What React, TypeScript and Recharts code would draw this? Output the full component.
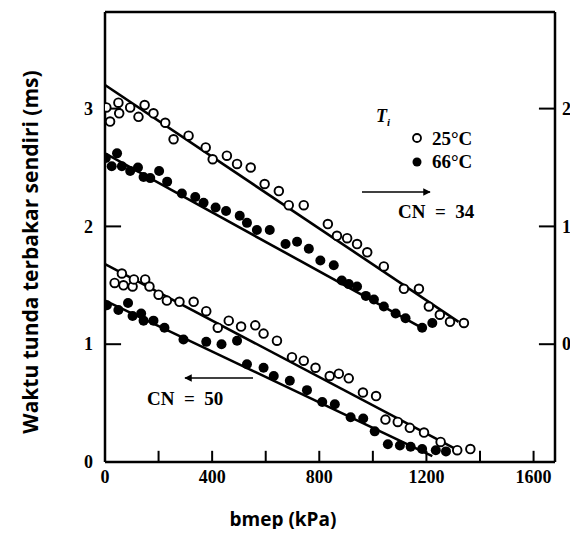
import { ScatterChart, Scatter, XAxis, YAxis, ReferenceLine } from "recharts";

// CN = 34 (read on right axis), Ti = 25°C
const bmep34Cold = [5, 19, 50, 53, 94, 125, 148, 181, 225, 256, 312, 376, 402, 455, 493, 544, 596, 649, 686, 742, 832, 866, 904, 941, 979, 1041, 1116, 1172, 1209, 1250, 1288, 1340];
const delay34Cold = [2.01, 1.89, 2.05, 1.96, 2.01, 1.93, 2.03, 1.96, 1.88, 1.74, 1.77, 1.67, 1.57, 1.6, 1.53, 1.5, 1.36, 1.3, 1.18, 1.18, 1.02, 0.92, 0.9, 0.85, 0.78, 0.66, 0.47, 0.47, 0.32, 0.25, 0.19, 0.18];

// CN = 34, Ti = 66°C
const bmep34Hot = [3, 25, 45, 63, 94, 123, 144, 169, 202, 232, 287, 337, 368, 413, 452, 503, 530, 567, 615, 674, 717, 761, 804, 854, 884, 910, 941, 974, 1004, 1041, 1085, 1122, 1184, 1222];
const delay34Hot = [1.58, 1.51, 1.62, 1.51, 1.47, 1.5, 1.42, 1.41, 1.47, 1.38, 1.28, 1.25, 1.2, 1.16, 1.13, 1.09, 1.03, 0.97, 0.97, 0.85, 0.87, 0.81, 0.71, 0.67, 0.54, 0.51, 0.49, 0.41, 0.38, 0.32, 0.26, 0.22, 0.14, 0.18];

// CN = 50 (read on left axis), Ti = 25°C
const bmep50Cold = [36, 63, 69, 103, 108, 150, 166, 200, 231, 278, 331, 378, 421, 462, 508, 561, 592, 642, 698, 742, 786, 839, 873, 910, 963, 1012, 1047, 1093, 1138, 1191, 1253, 1315, 1364];
const delay50Cold = [1.52, 1.6, 1.5, 1.49, 1.55, 1.55, 1.49, 1.42, 1.37, 1.36, 1.36, 1.28, 1.14, 1.2, 1.15, 1.16, 1.09, 1.03, 0.89, 0.86, 0.8, 0.73, 0.75, 0.71, 0.59, 0.56, 0.36, 0.34, 0.29, 0.25, 0.17, 0.1, 0.11];

// CN = 50, Ti = 66°C
const bmep50Hot = [7, 50, 86, 103, 135, 144, 181, 222, 293, 378, 435, 493, 530, 592, 630, 690, 754, 811, 858, 917, 964, 1007, 1056, 1101, 1141, 1184, 1235, 1273];
const delay50Hot = [1.33, 1.29, 1.35, 1.24, 1.26, 1.2, 1.2, 1.14, 1.04, 1.02, 1.0, 1.03, 0.83, 0.8, 0.73, 0.69, 0.61, 0.51, 0.49, 0.38, 0.37, 0.26, 0.15, 0.14, 0.13, 0.11, 0.1, 0.09];

// fitted lines (end points)
const fit34ColdX = [0, 1320];
const fit34ColdY = [2.2, 0.19];
const fit34HotX = [0, 1190];
const fit34HotY = [1.62, 0.13];
const fit50ColdX = [0, 1310];
const fit50ColdY = [1.68, 0.11];
const fit50HotX = [0, 1222];
const fit50HotY = [1.37, 0.05];

const xTicks = [0, 200, 400, 600, 800, 1000, 1200, 1400, 1600];
const leftTicks = [0, 1, 2, 3];
const rightTicks = [0, 1, 2];

const zip = (xs: number[], ys: number[]) => xs.map((x, i) => ({ x, y: ys[i] }));

const SERIF = "'Liberation Serif', 'Times New Roman', serif";
const SANS = "'Open Sans', 'Noto Sans', sans-serif";
const FS = 18;

const sideLabel = (anchor: "end" | "start") => (p: any) => (
  <text x={p.x} y={p.y} dy="0.35em" textAnchor={anchor} fontFamily={SERIF} fontWeight={700} fontSize={FS}>
    {p.payload.value}
  </text>
);
const BottomLabel = (p: any) => {
  const v = p.payload.value;
  if (v % 400 !== 0) return <g />;
  return (
    <text x={p.x} y={p.y} dy="0.71em" textAnchor="middle" fontFamily={SERIF} fontWeight={700} fontSize={FS}>
      {v}
    </text>
  );
};

const OpenDot = (p: any) => <circle cx={p.cx} cy={p.cy} r={4.3} fill="#fff" stroke="#000" strokeWidth={1.9} />;
const FilledDot = (p: any) => <circle cx={p.cx} cy={p.cy} r={5} fill="#000" />;
const NoDot = () => <g />;

const lineStyle = { stroke: "#000", strokeWidth: 2.6 };
const axisLine = { stroke: "#000", strokeWidth: 2.5 };

export default function App() {
  const W = 570;
  const H = 521;
  return (
    <div style={{ position: "relative", width: W, height: H }}>
      <svg
        width={W}
        height={H}
        style={{ position: "absolute", left: 0, top: 0, overflow: "visible", pointerEvents: "none" }}
      >
        <defs>
          <marker id="head" viewBox="0 0 10 10" refX="9" refY="5" markerWidth="7" markerHeight="5" orient="auto-start-reverse">
            <path d="M0,0 L10,5 L0,10 z" fill="#000" />
          </marker>
        </defs>
        <text x={368} y={114} fontFamily={SERIF} fontStyle="italic" fontWeight={700} fontSize={18}>
          T<tspan dy={4} fontSize={11}>i</tspan>
        </text>
        <circle cx={409} cy={130} r={4} fill="#fff" stroke="#000" strokeWidth={1.8} />
        <text x={424} y={137} fontFamily={SERIF} fontWeight={700} fontSize={19}>25°C</text>
        <circle cx={409} cy={154} r={4.5} fill="#000" />
        <text x={424} y={160} fontFamily={SERIF} fontWeight={700} fontSize={19}>66°C</text>

        <line x1={354} y1={184} x2={422} y2={184} stroke="#000" strokeWidth={1.5} markerEnd="url(#head)" />
        <text x={390} y={210} fontFamily={SERIF} fontWeight={700} fontSize={19} xmlSpace="preserve">CN  =  34</text>
        <line x1={245} y1={370} x2={177} y2={370} stroke="#000" strokeWidth={1.5} markerEnd="url(#head)" />
        <text x={139} y={397} fontFamily={SERIF} fontWeight={700} fontSize={19} xmlSpace="preserve">CN  =  50</text>

        <text x={275} y={518} textAnchor="middle" fontFamily={SANS} fontWeight={700} fontSize={19}>bmep (kPa)</text>
        <text
          x={30}
          y={244}
          transform="rotate(-90 30 244)"
          textAnchor="middle"
          fontFamily={SANS}
          fontWeight={700}
          fontSize={21}
        >
          Waktu tunda terbakar sendiri (ms)
        </text>
      </svg>

      <ScatterChart width={W} height={H} margin={{ top: 4, right: 3, bottom: 37, left: 57 }}>
        <XAxis
          type="number"
          dataKey="x"
          domain={[0, 1680]}
          ticks={xTicks}
          interval={0}
          allowDataOverflow
          height={30}
          tickSize={0}
          tickMargin={8}
          tickLine={false}
          tick={BottomLabel}
          axisLine={axisLine}
        />
        <YAxis
          yAxisId="left"
          type="number"
          dataKey="y"
          domain={[0, 3.82]}
          ticks={leftTicks}
          interval={0}
          allowDataOverflow
          width={40}
          tickSize={0}
          tickMargin={12}
          tickLine={false}
          tick={sideLabel("end")}
          axisLine={axisLine}
        />
        <YAxis
          yAxisId="right"
          orientation="right"
          type="number"
          dataKey="y"
          domain={[-1, 2.82]}
          ticks={rightTicks}
          interval={0}
          allowDataOverflow
          width={20}
          tickSize={0}
          tickMargin={7}
          tickLine={false}
          tick={sideLabel("start")}
          axisLine={axisLine}
        />
        <ReferenceLine yAxisId="left" y={3.82} stroke="#000" strokeWidth={2.5} ifOverflow="extendDomain" />

        {/* inward tick marks */}
        {xTicks.map((t) => (
          <ReferenceLine
            key={`xt${t}`}
            yAxisId="left"
            segment={[{ x: t, y: 0 }, { x: t, y: 0.095 }]}
            stroke="#000"
            strokeWidth={2}
            ifOverflow="visible"
          />
        ))}
        {leftTicks.map((t) => (
          <ReferenceLine
            key={`lt${t}`}
            yAxisId="left"
            segment={[{ x: 0, y: t }, { x: 60, y: t }]}
            stroke="#000"
            strokeWidth={2}
            ifOverflow="visible"
          />
        ))}
        {rightTicks.map((t) => (
          <ReferenceLine
            key={`rt${t}`}
            yAxisId="right"
            segment={[{ x: 1620, y: t }, { x: 1680, y: t }]}
            stroke="#000"
            strokeWidth={2}
            ifOverflow="visible"
          />
        ))}

        <Scatter yAxisId="right" data={zip(fit34ColdX, fit34ColdY)} line={lineStyle} shape={NoDot} isAnimationActive={false} />
        <Scatter yAxisId="right" data={zip(fit34HotX, fit34HotY)} line={lineStyle} shape={NoDot} isAnimationActive={false} />
        <Scatter yAxisId="left" data={zip(fit50ColdX, fit50ColdY)} line={lineStyle} shape={NoDot} isAnimationActive={false} />
        <Scatter yAxisId="left" data={zip(fit50HotX, fit50HotY)} line={lineStyle} shape={NoDot} isAnimationActive={false} />

        <Scatter yAxisId="right" data={zip(bmep34Hot, delay34Hot)} shape={FilledDot} isAnimationActive={false} />
        <Scatter yAxisId="left" data={zip(bmep50Hot, delay50Hot)} shape={FilledDot} isAnimationActive={false} />
        <Scatter yAxisId="right" data={zip(bmep34Cold, delay34Cold)} shape={OpenDot} isAnimationActive={false} />
        <Scatter yAxisId="left" data={zip(bmep50Cold, delay50Cold)} shape={OpenDot} isAnimationActive={false} />
      </ScatterChart>
    </div>
  );
}
